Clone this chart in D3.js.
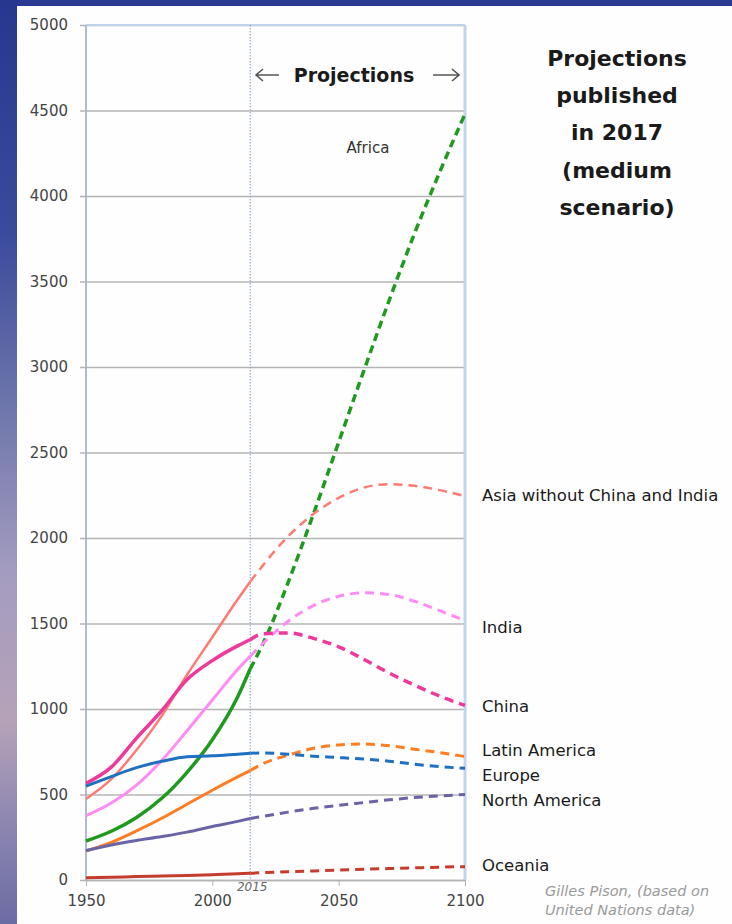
<!DOCTYPE html>
<html>
<head>
<meta charset="utf-8">
<script src="https://cdn.jsdelivr.net/npm/d3@7"></script>
<style>
  body { margin: 0; background: #fff; }
  svg { display: block; }
</style>
</head>
<body>
<div id="chart"></div>
<script>
// data (millions), UN WPP 2017 medium scenario
var years = [1950, 1960, 1970, 1980, 1990, 2000, 2010, 2015, 2020, 2030, 2040, 2050, 2060, 2070, 2080, 2090, 2100];
var africa   = [228, 285, 366, 478, 630, 820, 1070, 1235, 1380, 1740, 2140, 2560, 2980, 3390, 3780, 4140, 4480];
var asiaRest = [474, 590, 760, 960, 1200, 1420, 1640, 1745, 1840, 2010, 2140, 2235, 2295, 2315, 2305, 2280, 2245];
var india    = [376, 450, 555, 699, 873, 1053, 1231, 1309, 1383, 1513, 1605, 1659, 1680, 1670, 1630, 1575, 1517];
var china    = [565, 660, 830, 990, 1172, 1283, 1369, 1405, 1440, 1445, 1413, 1364, 1290, 1210, 1140, 1075, 1021];
var latam    = [169, 220, 287, 361, 443, 525, 603, 640, 680, 730, 770, 790, 795, 785, 765, 745, 722];
var europe   = [549, 605, 657, 694, 721, 726, 736, 741, 743, 736, 724, 716, 707, 695, 677, 663, 653];
var northAm  = [173, 205, 231, 254, 280, 313, 343, 360, 372, 397, 419, 437, 453, 469, 482, 492, 500];
var oceania  = [13, 16, 20, 23, 27, 31, 36, 39, 43, 48, 53, 58, 63, 67, 71, 75, 78];

var yTicks = [0, 500, 1000, 1500, 2000, 2500, 3000, 3500, 4000, 4500, 5000];
var xTicks = [1950, 2000, 2050, 2100];
var splitYear = 2015;

var series = [
  {name: "Africa", values: africa, color: "#1e9a1e", dash: "8,5", w: 3.5},
  {name: "Asia without China and India", values: asiaRest, color: "#ff7a72", dash: "9,6", w: 2.5},
  {name: "India", values: india, color: "#ff8cf4", dash: "9,6", w: 3},
  {name: "China", values: china, color: "#f0389a", dash: "9,6", w: 3.5},
  {name: "Latin America", values: latam, color: "#ff7d22", dash: "9,6", w: 3},
  {name: "Europe", values: europe, color: "#1f70c1", dash: "9,6", w: 3},
  {name: "North America", values: northAm, color: "#6a64a6", dash: "9,6", w: 3},
  {name: "Oceania", values: oceania, color: "#c63c2c", dash: "9,6", w: 3}
];

var W = 732, H = 924;
var font = "'DejaVu Sans', Verdana, sans-serif";
var svg = d3.select("#chart").append("svg")
  .attr("width", W)
  .attr("height", H)
  .style("font-family", font);

// slide background: dark blue frame and photo strip on the left
var grad = svg.append("defs").append("linearGradient")
  .attr("id", "strip").attr("x1", 0).attr("y1", 0).attr("x2", 0).attr("y2", 1);
[[0, "#27378f"], [0.25, "#3a4a9c"], [0.45, "#7078ac"], [0.62, "#a49cc0"], [0.78, "#b5a2b8"], [0.9, "#8a84b0"], [1, "#6a6ca4"]]
  .forEach(function(s) { grad.append("stop").attr("offset", s[0]).attr("stop-color", s[1]); });

svg.append("rect").attr("width", W).attr("height", H).attr("fill", "#2a3a92");
svg.append("rect").attr("x", 0).attr("y", 0).attr("width", 17).attr("height", H).attr("fill", "url(#strip)");
svg.append("rect").attr("x", 17).attr("y", 6).attr("width", W - 17).attr("height", H - 6).attr("fill", "#fefefe");

var x = d3.scaleLinear().domain([1950, 2100]).range([86, 465]);
var y = d3.scaleLinear().domain([0, 5000]).range([880, 25]);

// y axis with gridlines
var yAxis = svg.append("g")
  .attr("transform", "translate(465,0)")
  .call(d3.axisLeft(y).tickValues(yTicks).tickSize(385).tickSizeOuter(0).tickPadding(12)
    .tickFormat(d3.format("d")));
yAxis.select(".domain").remove();
yAxis.selectAll("line").attr("stroke", "#b4b4b4").attr("stroke-width", 1.6);
yAxis.selectAll("text").attr("fill", "#444").style("font-family", font).style("font-size", "15px");

// frame
svg.append("line").attr("x1", x(1950)).attr("x2", x(2100)).attr("y1", y(5000)).attr("y2", y(5000))
  .attr("stroke", "#c2d2e8").attr("stroke-width", 2);
svg.append("line").attr("x1", x(2100)).attr("x2", x(2100)).attr("y1", y(5000)).attr("y2", y(0))
  .attr("stroke", "#c2d4ec").attr("stroke-width", 3);
svg.append("line").attr("x1", x(1950)).attr("x2", x(1950)).attr("y1", y(5000)).attr("y2", y(0))
  .attr("stroke", "#a8b4c8").attr("stroke-width", 1.8);

// x axis
var xAxis = svg.append("g")
  .attr("transform", "translate(0," + y(0) + ")")
  .call(d3.axisBottom(x).tickValues(xTicks).tickSize(6).tickSizeOuter(0).tickPadding(9)
    .tickFormat(d3.format("d")));
xAxis.select(".domain").attr("stroke", "#b4b4b4").attr("stroke-width", 1.6);
xAxis.selectAll("line").attr("stroke", "#b4b4b4");
xAxis.selectAll("text").attr("fill", "#444").style("font-family", font).style("font-size", "15px");

// 2015 marker
svg.append("line").attr("x1", x(splitYear)).attr("x2", x(splitYear)).attr("y1", y(5000)).attr("y2", y(0))
  .attr("stroke", "#7f9ccc").attr("stroke-width", 1).attr("stroke-dasharray", "1.5,1.5");
svg.append("text").attr("x", x(splitYear) + 2).attr("y", 891).attr("text-anchor", "middle")
  .attr("fill", "#666").style("font-size", "12px").style("font-style", "italic").text("2015");

var line = d3.line()
  .x(function(d) { return x(d[0]); })
  .y(function(d) { return y(d[1]); })
  .curve(d3.curveMonotoneX);

series.forEach(function(s) {
  var pts = years.map(function(yr, i) { return [yr, s.values[i]]; });
  var hist = pts.filter(function(d) { return d[0] <= splitYear; });
  var proj = pts.filter(function(d) { return d[0] >= splitYear; });
  svg.append("path").datum(hist).attr("d", line)
    .attr("fill", "none").attr("stroke", s.color).attr("stroke-width", s.w);
  svg.append("path").datum(proj).attr("d", line)
    .attr("fill", "none").attr("stroke", s.color).attr("stroke-width", s.w)
    .attr("stroke-dasharray", s.dash);
});

// series labels
var labels = [
  {text: "Asia without China and India", y: 495},
  {text: "India", y: 627},
  {text: "China", y: 706},
  {text: "Latin America", y: 750},
  {text: "Europe", y: 775},
  {text: "North America", y: 800},
  {text: "Oceania", y: 865}
];
svg.selectAll(".lab").data(labels).enter().append("text")
  .attr("x", 482).attr("y", function(d) { return d.y; }).attr("dy", "0.35em")
  .attr("fill", "#1a1a1a").style("font-size", "16.5px")
  .text(function(d) { return d.text; });

svg.append("text").attr("x", 368).attr("y", 148).attr("dy", "0.35em").attr("text-anchor", "middle")
  .attr("fill", "#333").style("font-size", "15px").text("Africa");

// projections header with arrows
svg.append("text").attr("x", 354).attr("y", 75).attr("dy", "0.35em").attr("text-anchor", "middle")
  .attr("fill", "#1a1a1a").style("font-size", "19px").style("font-weight", "bold").text("Projections");
var arrows = svg.append("g").attr("stroke", "#555").attr("stroke-width", 1.6).attr("fill", "none");
arrows.append("path").attr("d", "M256,75H279M263,69L256,75L263,81");
arrows.append("path").attr("d", "M433,75H459M452,69L459,75L452,81");

// title block
var title = ["Projections", "published", "in 2017", "(medium", "scenario)"];
svg.selectAll(".title").data(title).enter().append("text")
  .attr("x", 617).attr("y", function(d, i) { return 58 + i * 37.3; }).attr("dy", "0.35em")
  .attr("text-anchor", "middle").attr("fill", "#1a1a1a")
  .style("font-size", "22px").style("font-weight", "bold")
  .text(function(d) { return d; });

// source
var src = ["Gilles Pison, (based on", "United Nations data)"];
svg.selectAll(".src").data(src).enter().append("text")
  .attr("x", 545).attr("y", function(d, i) { return 891 + i * 19; }).attr("dy", "0.35em")
  .attr("fill", "#9a9a9a").style("font-size", "14.5px").style("font-style", "italic")
  .text(function(d) { return d; });
</script>
</body>
</html>
